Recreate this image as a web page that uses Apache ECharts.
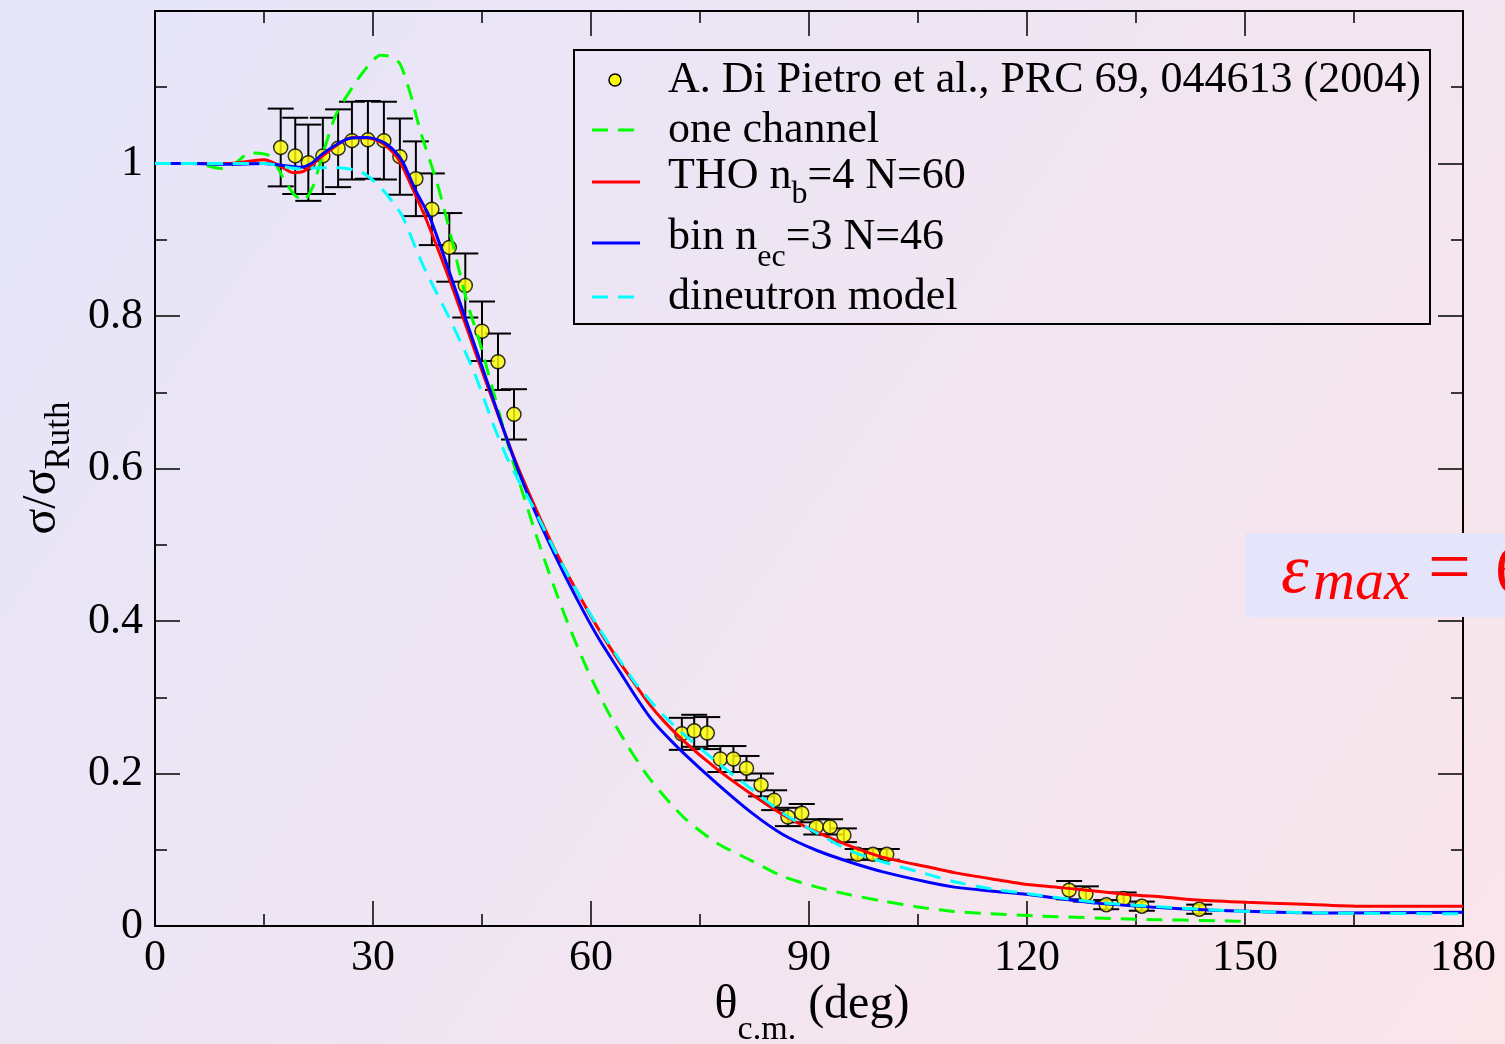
<!DOCTYPE html>
<html><head><meta charset="utf-8">
<script src="https://cdn.jsdelivr.net/npm/echarts@6/dist/echarts.min.js"></script>
<style>html,body{margin:0;padding:0;overflow:hidden;}#c{width:1505px;height:1044px;}</style>
</head><body><div id="c"></div>
<script>
// ---- experimental data (Di Pietro et al.) ----
const dataAngle = [17.3,19.3,21.1,23.1,25.2,27.1,29.3,31.5,33.7,35.9,38.1,40.5,42.7,45.0,47.2,49.4,
  72.5,74.2,76.0,77.8,79.6,81.4,83.4,85.2,87.1,89.0,91.0,92.9,94.8,96.7,98.8,100.7,
  125.8,128.1,130.9,133.3,135.8,143.7];
const dataRatio = [1.021,1.010,1.001,1.010,1.020,1.030,1.031,1.030,1.009,0.980,0.940,0.890,0.840,0.780,0.740,0.671,
  0.252,0.256,0.253,0.219,0.219,0.207,0.185,0.165,0.143,0.148,0.130,0.130,0.119,0.094,0.094,0.094,
  0.047,0.042,0.028,0.036,0.026,0.022];
const dataErr = [0.051,0.050,0.050,0.050,0.051,0.051,0.051,0.051,0.050,0.049,0.047,0.045,0.042,0.039,0.037,0.033,
  0.021,0.021,0.021,0.017,0.017,0.016,0.015,0.013,0.012,0.012,0.010,0.010,0.009,0.007,0.007,0.007,
  0.012,0.010,0.006,0.008,0.006,0.006];

// ---- one channel (green dashed) ----
const oneChAngle = [0,3,5.8,8,9.4,11,13.1,15.8,17.6,19,20.4,21.7,22.3,23.5,25,27.8,29.5,31,32.5,33.7,35.1,36.5,38.8,40.2,42.9,44.7,48.4,50,53,56,59,62,65,68.1,72.7,77.3,81.9,86.4,91.1,95.6,100,105,110,115,121.8,135,147.9,150];
const oneChRatio = [1.0,1.0,1.0,0.995,0.993,1.0,1.014,1.01,0.982,0.961,0.951,0.969,0.987,1.025,1.066,1.109,1.13,1.142,1.14,1.131,1.093,1.043,0.975,0.925,0.82,0.765,0.637,0.586,0.497,0.417,0.347,0.287,0.237,0.193,0.143,0.109,0.0865,0.065,0.051,0.041,0.033,0.025,0.019,0.016,0.013,0.009,0.0066,0.006];

// ---- THO nb=4 N=60 (red) ----
const thoAngle = [0,5,10,13,15,17,19,20.5,22.3,25,27.2,29.6,31.4,33,34.1,35.5,37.4,40.9,44.7,49.3,52,55,58,61,64,66,68.1,70,72.7,77.3,81.9,86.4,91.1,95.6,100.2,106.6,110,115,120.4,125,134.2,138.7,143.4,150.3,157.1,166.2,180];
const thoRatio = [1.0,1.0,1.0,1.003,1.005,0.998,0.988,0.99,1.004,1.024,1.034,1.033,1.026,1.012,0.995,0.966,0.925,0.838,0.736,0.617,0.556,0.494,0.44,0.39,0.345,0.318,0.29,0.269,0.243,0.206,0.174,0.146,0.123,0.105,0.090,0.077,0.070,0.062,0.054,0.050,0.041,0.038,0.034,0.031,0.029,0.026,0.026];

// ---- bin nec=3 N=46 (blue) ----
const binAngle = [0,5,10,15,18,20,21.5,23.1,25,26.8,29.2,31.4,33,34.1,36,37.8,40.9,44.7,49.3,52,55,58,61,64,66,68.1,70,72.7,77.3,81.9,86.4,91.1,95.6,100.2,106.6,110,115,120.4,129.6,138.7,147.9,161.7,180];
const binRatio = [1.0,1.0,0.999,1.0,0.997,0.995,1.0,1.013,1.025,1.033,1.034,1.028,1.016,1.002,0.962,0.93,0.847,0.742,0.615,0.55,0.487,0.43,0.378,0.333,0.303,0.274,0.253,0.227,0.187,0.150,0.120,0.099,0.084,0.071,0.057,0.051,0.046,0.041,0.030,0.024,0.020,0.017,0.018];

// ---- dineutron model (cyan dashed) ----
const dineutAngle = [0,10,15,20,22,24.1,27.8,29.5,31.4,33.3,34.1,36.9,40.2,43.8,46.5,48.4,50,52,55,58,61,64,66,68.1,70,72.7,77.3,81.9,86.4,91.1,95.6,100.2,106.6,110,115,120.4,129.6,138.7,147.9,161.7,180];
const dineutRatio = [1.0,1.0,1.0,0.993,0.994,0.995,0.991,0.982,0.965,0.942,0.93,0.866,0.803,0.729,0.659,0.615,0.585,0.55,0.493,0.44,0.392,0.348,0.32,0.296,0.276,0.252,0.215,0.181,0.148,0.122,0.099,0.084,0.067,0.058,0.049,0.042,0.031,0.025,0.020,0.017,0.016];

const legendLabels = ['A. Di Pietro et al., PRC 69, 044613 (2004)','one channel',['THO n','b','=4 N=60'],['bin n','ec','=3 N=46'],'dineutron model'];

const FAM = '"Liberation Serif", "Times New Roman", serif';
const zip = (a,b) => a.map((v,i)=>[v,b[i]]);
const mctx = document.createElement('canvas').getContext('2d');
function measure(t, size, style) { mctx.font = (style ? style + ' ' : '') + size + 'px ' + FAM; return mctx.measureText(t).width; }

function textRun(x0, yc, pieces, color, style) {
  let x = x0; const out = [];
  pieces.forEach(([t, size, dy]) => {
    out.push({type:'text', x:x, y:yc + dy, z:10,
      style:{text:t, fontFamily:FAM, fontSize:size, fontStyle:style||'normal', fill:color||'#000', verticalAlign:'middle', align:'left'}});
    x += measure(t, size, style);
  });
  return out;
}
function runWidth(pieces, style) { return pieces.reduce((s,[t,size]) => s + measure(t,size,style), 0); }

const chart = echarts.init(document.getElementById('c'), null, {renderer:'canvas'});

function tickAxis(extra) {
  return Object.assign({
    axisLine:{show:true, onZero:false, lineStyle:{color:'#000', width:2}},
    axisTick:{show:true, inside:true, length:25, lineStyle:{color:'#000', width:1.5}},
    minorTick:{show:true, splitNumber:2, length:12, lineStyle:{color:'#000', width:1.5}},
    splitLine:{show:false},
  }, extra);
}

const lx = 668, LFS = 44, SFS = 32;
const rows = [80, 130, 176, 237, 297];
const yTitle = [['σ/σ',48,0],['Ruth',35,18]];
const xTitle = [['θ',48,0],['c.m.',34,25],[' (deg)',48,0]];
const graphics = [
  {type:'rect', shape:{x:574, y:50, width:856, height:274}, style:{fill:'none', stroke:'#000', lineWidth:2}, z:10},
  {type:'circle', shape:{cx:615, cy:rows[0], r:6}, style:{fill:'#ffff00', stroke:'#000', lineWidth:1.5}, z:10},
  {type:'line', shape:{x1:592, y1:rows[1], x2:640, y2:rows[1]}, style:{stroke:'#00ff00', lineWidth:3, lineDash:[16,10]}, z:10},
  {type:'line', shape:{x1:592, y1:182, x2:640, y2:182}, style:{stroke:'#ff0000', lineWidth:3}, z:10},
  {type:'line', shape:{x1:592, y1:243, x2:640, y2:243}, style:{stroke:'#0000ff', lineWidth:3}, z:10},
  {type:'line', shape:{x1:592, y1:rows[4], x2:640, y2:rows[4]}, style:{stroke:'#00ffff', lineWidth:3, lineDash:[16,10]}, z:10},
  ...textRun(lx, rows[0], [[legendLabels[0], LFS, 0]]),
  ...textRun(lx, rows[1], [[legendLabels[1], LFS, 0]]),
  ...textRun(lx, rows[2], [[legendLabels[2][0], LFS, 0],[legendLabels[2][1], SFS, 19],[legendLabels[2][2], LFS, 0]]),
  ...textRun(lx, rows[3], [[legendLabels[3][0], LFS, 0],[legendLabels[3][1], SFS, 21],[legendLabels[3][2], LFS, 0]]),
  ...textRun(lx, rows[4], [[legendLabels[4], LFS, 0]]),
  {type:'group', x:42, y:468, rotation:Math.PI/2, z:10,
    children: textRun(-runWidth(yTitle)/2, 0, yTitle)},
  ...textRun(812 - runWidth(xTitle)/2, 1005, xTitle),
  {type:'rect', shape:{x:1245, y:533, width:300, height:84}, style:{fill:'#e4e4fa'}, z:10},
  {type:'text', x:1281, y:574, z:11, style:{text:'ε', fontFamily:FAM, fontStyle:'italic', fontSize:70, fill:'#ff0000', verticalAlign:'middle'}},
  {type:'text', x:1313, y:584, z:11, style:{text:'max', fontFamily:FAM, fontStyle:'italic', fontSize:58, fill:'#ff0000', verticalAlign:'middle'}},
  {type:'text', x:1428, y:572, z:11, style:{text:'=', fontFamily:FAM, fontSize:76, fill:'#ff0000', verticalAlign:'middle'}},
  {type:'text', x:1495, y:575, z:11, style:{text:'6 MeV', fontFamily:FAM, fontSize:70, fill:'#ff0000', verticalAlign:'middle'}}
];

const option = {
  animation:false,
  backgroundColor: new echarts.graphic.LinearGradient(0,0,1,1,[{offset:0,color:'#e5e5fa'},{offset:1,color:'#fae5ea'}]),
  grid:{left:155, right:42, top:11, bottom:118, containLabel:false},
  xAxis:[
    tickAxis({type:'value', position:'bottom', min:0, max:180, interval:30,
      axisLabel:{show:true, color:'#000', fontFamily:FAM, fontSize:44, margin:10}}),
    tickAxis({type:'value', position:'top', min:0, max:180, interval:30, axisLabel:{show:false}})
  ],
  yAxis:[
    tickAxis({type:'value', position:'left', min:0, max:1.2, interval:0.2,
      axisLabel:{show:true, color:'#000', fontFamily:FAM, fontSize:44, margin:12,
        formatter:v => v > 1.1 ? '' : String(Math.round(v*10)/10)}}),
    tickAxis({type:'value', position:'right', min:0, max:1.2, interval:0.2, axisLabel:{show:false}})
  ],
  series:[
    {type:'custom', name:'errors', z:2, clip:false,
      data: dataAngle.map((x,i)=>[x, dataRatio[i], dataErr[i]]),
      encode:{x:0, y:1},
      renderItem:(params, api) => {
        const x = api.value(0), y = api.value(1), e = api.value(2);
        const t = api.coord([x, y+e]), b = api.coord([x, y-e]);
        const st = {stroke:'#000', lineWidth:2};
        return {type:'group', children:[
          {type:'line', shape:{x1:t[0], y1:t[1], x2:b[0], y2:b[1]}, style:st},
          {type:'line', shape:{x1:t[0]-13, y1:t[1], x2:t[0]+13, y2:t[1]}, style:st},
          {type:'line', shape:{x1:b[0]-13, y1:b[1], x2:b[0]+13, y2:b[1]}, style:st}
        ]};
      }},
    {type:'scatter', name:'A. Di Pietro', z:3, data: zip(dataAngle, dataRatio), symbol:'circle', symbolSize:14,
      itemStyle:{color:'#ffff00', borderColor:'#000', borderWidth:1.5}},
    {type:'line', name:'one channel', z:4, data: zip(oneChAngle, oneChRatio), showSymbol:false, smooth:0.25,
      lineStyle:{color:'#00ff00', width:3, type:[16,10]}},
    {type:'line', name:'THO', z:5, data: zip(thoAngle, thoRatio), showSymbol:false, smooth:0.25,
      lineStyle:{color:'#ff0000', width:3}},
    {type:'line', name:'bin', z:6, data: zip(binAngle, binRatio), showSymbol:false, smooth:0.25,
      lineStyle:{color:'#0000ff', width:3}},
    {type:'line', name:'dineutron', z:7, data: zip(dineutAngle, dineutRatio), showSymbol:false, smooth:0.25,
      lineStyle:{color:'#00ffff', width:3, type:[16,10]}}
  ],
  graphic: graphics
};
chart.setOption(option);
</script></body></html>
